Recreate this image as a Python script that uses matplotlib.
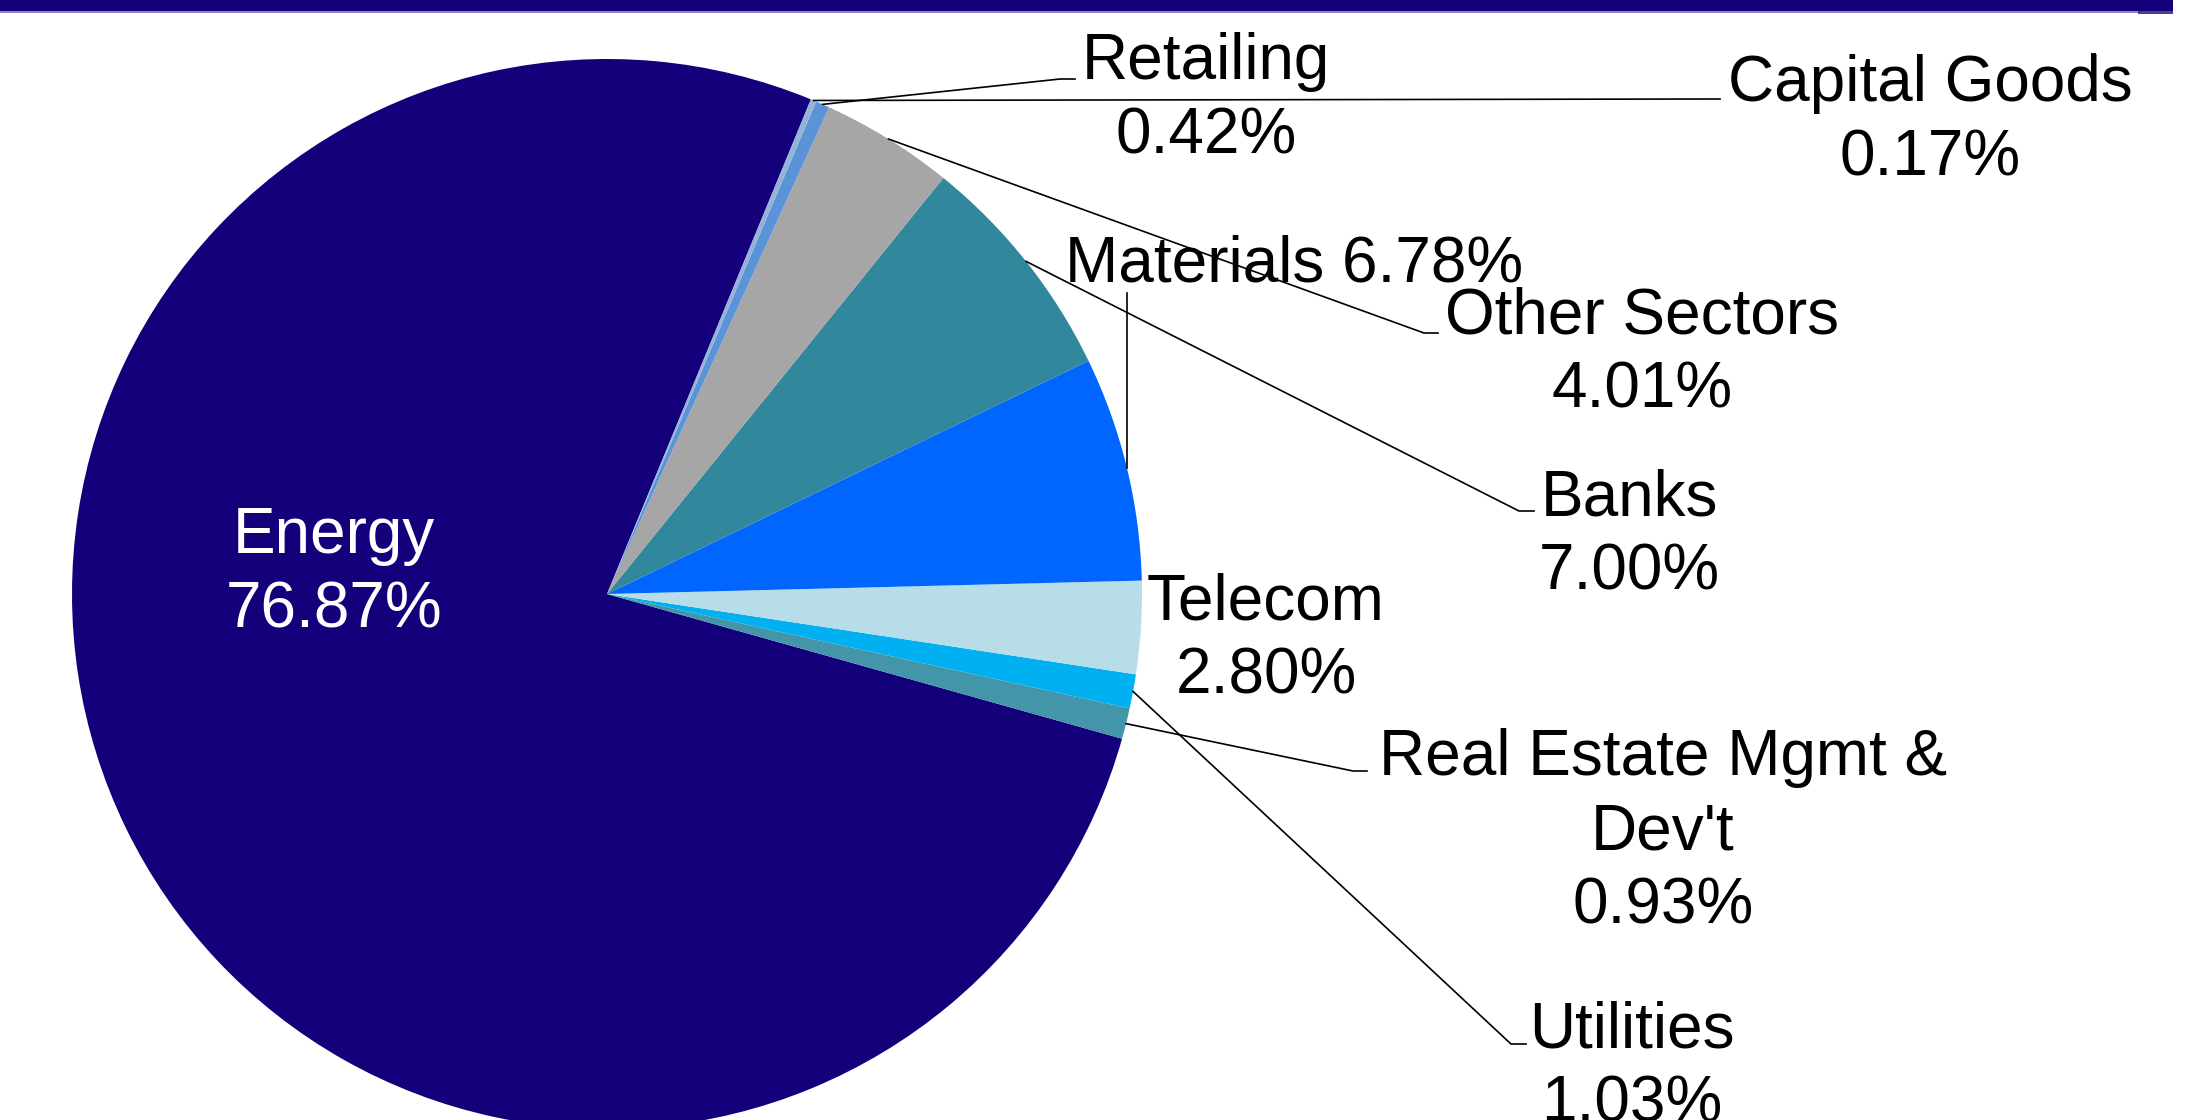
import numpy as np
import matplotlib
matplotlib.use("Agg")
import matplotlib.pyplot as plt
from matplotlib.patches import Rectangle

# ---------------- data ----------------
sectors = ["Energy", "Real Estate Mgmt & Dev't", "Utilities", "Telecom",
           "Materials", "Banks", "Other Sectors", "Retailing", "Capital Goods"]
weights = [76.87, 0.93, 1.03, 2.80, 6.78, 7.00, 4.01, 0.42, 0.17]
colors = ["#14007A", "#4396AA", "#00B0F0", "#B7DEE8",
          "#0066FF", "#31879C", "#A6A6A6", "#5B93D8", "#95B3D7"]

# how each label's text is broken into lines
name_lines = {
    "Real Estate Mgmt & Dev't": ["Real Estate Mgmt &", "Dev't"],
}
single_line = {"Materials"}

# ---------------- layout (image pixel coords, y downward) ----------------
W, H = 2194, 1120
CX, CY, R = 607, 594, 535
FS = 46          # pt
LINE_STEP = 74   # px between baselines

layout = {
    "Energy": dict(x=334, y=553, color="white"),
    "Real Estate Mgmt & Dev't": dict(x=1663, y=775, elbow=(1353, 771), end=(1367, 771)),
    "Utilities": dict(x=1632, y=1048, elbow=(1511, 1044), end=(1526, 1044)),
    "Telecom": dict(x=1266, y=619),
    "Materials": dict(x=1294, y=281, vertical_to=293),
    "Banks": dict(x=1629, y=515, elbow=(1519, 511), end=(1534, 511)),
    "Other Sectors": dict(x=1642, y=334, elbow=(1424, 333), end=(1438, 333)),
    "Retailing": dict(x=1206, y=79, elbow=(1060, 79), end=(1075, 79)),
    "Capital Goods": dict(x=1930, y=101, elbow=(1705, 99), end=(1720, 99)),
}

def Y(y):
    return H - y

plt.rcParams['font.family'] = ['Liberation Sans', 'DejaVu Sans']
fig = plt.figure(figsize=(W / 100, H / 100), dpi=100)
ax = fig.add_axes([0, 0, 1, 1])

wedges, _ = ax.pie(weights, colors=colors, startangle=67.6, counterclock=True,
                   center=(CX, Y(CY)), radius=R,
                   wedgeprops=dict(linewidth=0, antialiased=True))
ax.set_aspect('auto')
ax.set_xlim(0, W)
ax.set_ylim(0, H)
ax.axis('off')

# header bar
ax.add_patch(Rectangle((0, Y(11)), 2173, 11, color="#14007A", lw=0, zorder=5))
ax.add_patch(Rectangle((0, Y(12.5)), 2138, 1.5, color="#8C82C8", lw=0, zorder=5))
ax.add_patch(Rectangle((2138, Y(14)), 35, 3, color="#4A3A9A", lw=0, zorder=5))
ax.add_patch(Rectangle((2091, Y(60)), 5, 7, color="#111111", lw=0, zorder=5))

for name, val, w in zip(sectors, weights, wedges):
    lay = layout[name]
    pct = f"{val:.2f}%"
    if name in single_line:
        lines = [f"{name} {pct}"]
    else:
        lines = name_lines.get(name, [name]) + [pct]
    col = lay.get("color", "black")
    for i, ln in enumerate(lines):
        ax.text(lay["x"], Y(lay["y"] + i * LINE_STEP), ln, ha="center", va="baseline",
                fontsize=FS, color=col, zorder=6)
    # leader lines from wedge mid-angle on the rim
    mid = np.deg2rad((w.theta1 + w.theta2) / 2)
    ax_x = CX + R * np.cos(mid)
    ax_y = Y(CY) + R * np.sin(mid)
    if "elbow" in lay:
        ex, ey = lay["elbow"]
        nx, ny = lay["end"]
        ax.plot([ax_x, ex, nx], [ax_y, Y(ey), Y(ny)], color="black", lw=1.2,
                solid_joinstyle="miter", zorder=4)
    elif "vertical_to" in lay:
        ax.plot([ax_x, ax_x], [ax_y, Y(lay["vertical_to"])], color="black", lw=1.2, zorder=4)

fig.savefig("out.png", dpi=100)
